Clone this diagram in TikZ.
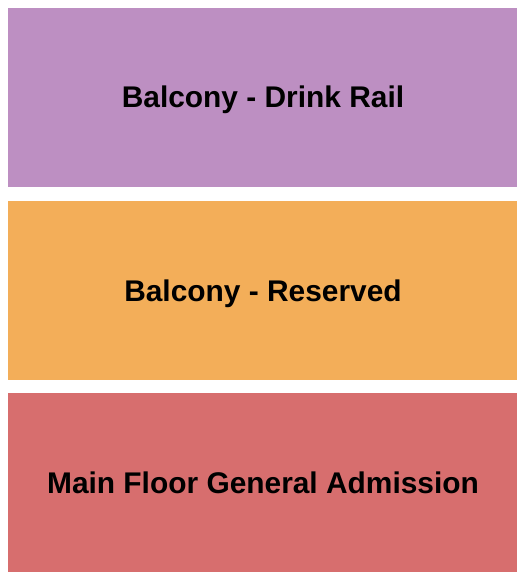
\documentclass[tikz,border=0pt]{standalone}
\usepackage{fontspec}
\setmainfont{Liberation Sans}
\definecolor{purp}{RGB}{189,143,194}
\definecolor{oran}{RGB}{243,174,89}
\definecolor{redd}{RGB}{215,110,110}
\begin{document}
\begin{tikzpicture}[x=1bp,y=-1bp,
  lbl/.style={font=\fontsize{30}{36}\selectfont\bfseries,text=black,anchor=base,inner sep=0pt}]
\useasboundingbox (0,0) rectangle (525,580);
\fill[white] (0,0) rectangle (525,580);
\fill[purp] (8,8) rectangle (517,187);
\fill[oran] (8,201) rectangle (517,380);
\fill[redd] (8,393) rectangle (517,572);
\node[lbl] (a) at (263,108) {Balcony - Drink Rail};
\node[lbl] (b) at (263,301) {Balcony - Reserved};
\node[lbl] (c) at (263,493) {Main Floor General Admission};
\end{tikzpicture}
\end{document}
